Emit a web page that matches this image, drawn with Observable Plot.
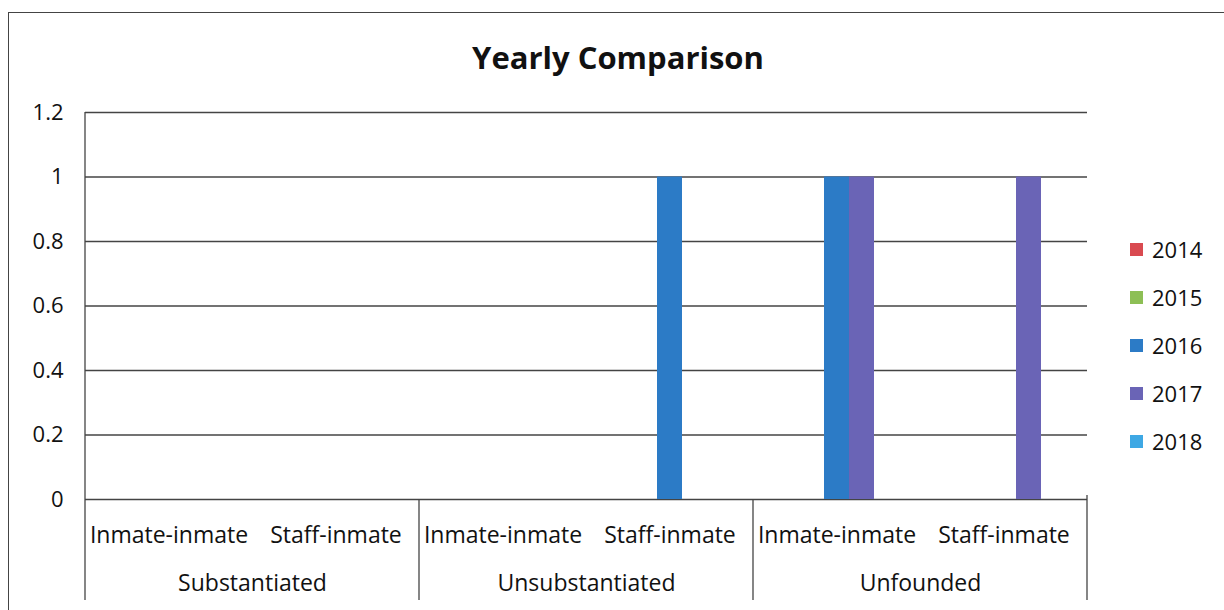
<!DOCTYPE html>
<html><head><meta charset="utf-8">
<script src="https://cdn.jsdelivr.net/npm/d3@7"></script>
<script src="https://cdn.jsdelivr.net/npm/@observablehq/plot@0.6"></script>
<style>
body{margin:0;background:#fff;font-family:"Open Sans",Lato,sans-serif;color:#111;}
#frame{position:absolute;left:8px;top:12px;width:1300px;height:700px;border-left:1.5px solid #444;border-top:1.5px solid #444;}
#title{position:absolute;left:0;top:37px;width:1236px;text-align:center;font-weight:bold;font-size:31px;line-height:40px;}
#chart{position:absolute;left:0;top:90px;}
#legend{position:absolute;left:1130px;top:225px;}
.item{display:flex;align-items:center;height:48px;font-size:22px;}
.sw{width:13px;height:13px;margin-right:9px;}
</style>
</head><body>
<div id="frame"></div>
<div id="title">Yearly Comparison</div>
<div id="chart"></div>
<div id="legend"></div>
<script>
const years = ["2014", "2015", "2016", "2017", "2018"];
const colors = ["#D94A50", "#8DBF55", "#2C7BC6", "#6A64B6", "#3EA8E4"];
const groups = ["Substantiated", "Unsubstantiated", "Unfounded"];
const subcats = ["Inmate-inmate", "Staff-inmate"];
// values per category, in order: Subst/Inmate, Subst/Staff, Unsubst/Inmate, Unsubst/Staff, Unfounded/Inmate, Unfounded/Staff
const v2014 = [0, 0, 0, 0, 0, 0];
const v2015 = [0, 0, 0, 0, 0, 0];
const v2016 = [0, 0, 0, 1, 1, 0];
const v2017 = [0, 0, 0, 0, 1, 1];
const v2018 = [0, 0, 0, 0, 0, 0];
const yTicks = [0, 0.2, 0.4, 0.6, 0.8, 1, 1.2];

const series = [v2014, v2015, v2016, v2017, v2018];
const cats = [];
groups.forEach(g => subcats.forEach(s => cats.push({key: g + "|" + s, group: g, sub: s})));
const keys = cats.map(c => c.key);
const rows = [];
series.forEach((vals, i) => vals.forEach((v, j) => rows.push({key: keys[j], year: years[i], value: v})));
const groupFirst = cats.filter(c => c.sub === subcats[0]);

const plot = Plot.plot({
  width: 1110, height: 520,
  marginLeft: 84, marginRight: 23, marginTop: 22, marginBottom: 111,
  fx: {domain: keys, padding: 0, axis: null},
  x: {domain: years, paddingInner: 0, paddingOuter: 0.75, axis: null},
  y: {domain: [0, 1.2], axis: null},
  color: {domain: years, range: colors},
  style: {fontFamily: "'Open Sans', Lato, sans-serif", fontSize: "22px", color: "#111", background: "transparent"},
  marks: [
    Plot.ruleY(yTicks, {stroke: "#444", strokeWidth: 1.3}),
    Plot.barY(rows.filter(r => r.value > 0), {fx: "key", x: "year", y: "value", fill: "year"}),
    Plot.axisY(yTicks, {tickSize: 0, tickPadding: 22, label: null, fontSize: 22, tickFormat: d => String(d), anchor: "left"}),
    Plot.text(cats, {fx: "key", text: "sub", frameAnchor: "bottom", dy: 43, fontSize: 23, fill: "#111"}),
    Plot.text(groupFirst, {fx: "key", text: "group", frameAnchor: "bottom-right", textAnchor: "middle", dy: 91, fontSize: 23, fill: "#111"})
  ]
});
document.getElementById("chart").appendChild(plot);

// axis and category separator lines, from the plot's own scales
const fx = plot.scale("fx");
const ys = plot.scale("y");
const svg = d3.select(plot);
const y0 = ys.apply(0), yTop = ys.apply(1.2), yBottom = 510;
const left = fx.apply(keys[0]);
const bw = fx.bandwidth;
svg.append("line").attr("x1", left).attr("x2", left).attr("y1", yTop).attr("y2", yBottom)
  .attr("stroke", "#444").attr("stroke-width", 1.3);
[keys[2], keys[4]].forEach(k => {
  const x = fx.apply(k);
  svg.append("line").attr("x1", x).attr("x2", x).attr("y1", y0).attr("y2", yBottom)
    .attr("stroke", "#444").attr("stroke-width", 1.3);
});
const right = fx.apply(keys[5]) + bw;
svg.append("line").attr("x1", right).attr("x2", right).attr("y1", y0 - 4).attr("y2", yBottom)
  .attr("stroke", "#444").attr("stroke-width", 1.3);

// legend
const lg = d3.select("#legend");
years.forEach((y, i) => {
  const it = lg.append("div").attr("class", "item");
  it.append("div").attr("class", "sw").style("background", colors[i]);
  it.append("span").text(y);
});
</script>
</body></html>
